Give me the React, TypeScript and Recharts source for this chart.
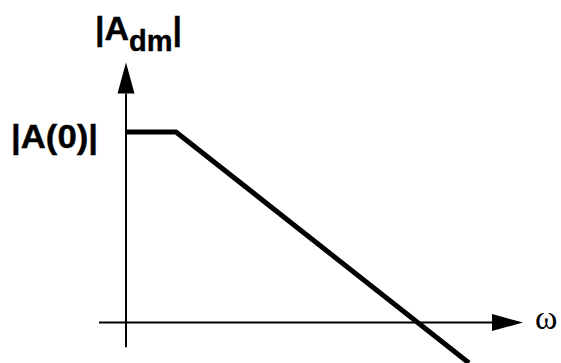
import React from "react";
import {
  LineChart,
  Line,
  XAxis,
  YAxis,
  ReferenceLine,
  ReferenceDot,
} from "recharts";

// asymptotic magnitude response: flat at |A(0)|, then rolling off past the pole
const omega = [0, 1, 6.86];
const gain = [4, 4, -0.85];

const yAxisTitle = "A";
const yAxisSub = "dm";
const xAxisTitle = "ω";
const dcGainLabel = "|A(0)|";

const data = omega.map((w, i) => ({ w, a: gain[i] }));

// axis extents in data units (they overshoot the origin a little)
const X_MIN = -0.54;
const X_MAX = 7.94;
const Y_MIN = -0.52;
const Y_MAX = 5.46;

const W = 561;
const H = 363;
const SANS = "'Liberation Sans', Arial, Helvetica, sans-serif";

function Arrow(props: any) {
  const { x1, y1, x2, y2 } = props;
  const len = 31;
  const half = 8.5;
  const dx = x2 - x1;
  const dy = y2 - y1;
  const d = Math.sqrt(dx * dx + dy * dy) || 1;
  const ux = dx / d;
  const uy = dy / d;
  const bx = x2 - ux * len;
  const by = y2 - uy * len;
  const pts = [
    `${x2},${y2}`,
    `${bx - uy * half},${by + ux * half}`,
    `${bx + uy * half},${by - ux * half}`,
  ].join(" ");
  return (
    <g>
      <line x1={x1} y1={y1} x2={bx} y2={by} stroke="#000" strokeWidth={2} />
      <polygon points={pts} fill="#000" />
    </g>
  );
}

// |A_dm| over the vertical arrow
function YTitle(p: any) {
  const { cx, cy } = p;
  return (
    <text
      x={cx - 31}
      y={cy - 22}
      fontFamily={SANS}
      fontWeight="bold"
      fontSize={34}
      stroke="#000"
      strokeWidth={0.4}
    >
      |{yAxisTitle}
      <tspan fontSize={29} dy={11}>
        {yAxisSub}
      </tspan>
      <tspan dy={-11}>|</tspan>
    </text>
  );
}

export default function App() {
  return (
    <div style={{ position: "absolute", left: 0, top: 0, width: W, height: H, background: "#fff" }}>
      <LineChart width={W} height={H} data={data} margin={{ top: 0, right: 0, bottom: 0, left: 0 }}>
        <XAxis type="number" dataKey="w" domain={[-2.52, 8.7]} hide />
        <YAxis type="number" domain={[-0.7917, 6.7708]} hide />
        <ReferenceLine
          segment={[{ x: X_MIN, y: 0 }, { x: X_MAX, y: 0 }]}
          ifOverflow="visible"
          shape={Arrow}
        />
        <ReferenceLine
          segment={[{ x: 0, y: Y_MIN }, { x: 0, y: Y_MAX }]}
          ifOverflow="visible"
          shape={Arrow}
        />
        <Line
          type="linear"
          dataKey="a"
          stroke="#000"
          strokeWidth={5}
          dot={false}
          activeDot={false}
          isAnimationActive={false}
        />
        <ReferenceDot
          x={0}
          y={gain[0]}
          ifOverflow="visible"
          shape={(p: any) => (
            <text
              x={p.cx - 115}
              y={p.cy + 16}
              textLength={87}
              lengthAdjust="spacingAndGlyphs"
              fontFamily={SANS}
              fontWeight="bold"
              fontSize={34}
              stroke="#000"
              strokeWidth={0.4}
            >
              {dcGainLabel}
            </text>
          )}
        />
        <ReferenceDot x={0} y={Y_MAX} ifOverflow="visible" shape={YTitle} />
        <ReferenceDot
          x={X_MAX}
          y={0}
          ifOverflow="visible"
          shape={(p: any) => (
            <text
              x={p.cx + 12}
              y={p.cy + 6}
              fontFamily="'Liberation Serif', 'Times New Roman', serif"
              fontSize={34}
            >
              {xAxisTitle}
            </text>
          )}
        />
      </LineChart>
    </div>
  );
}
